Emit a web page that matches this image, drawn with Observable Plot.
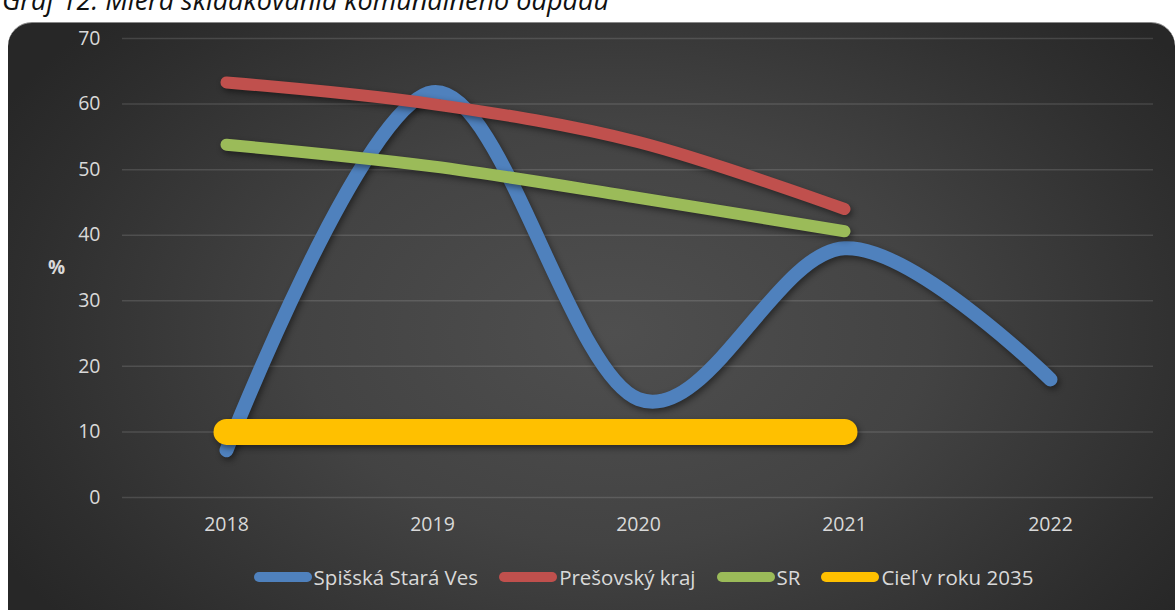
<!DOCTYPE html>
<html>
<head>
<meta charset="utf-8">
<script src="https://cdn.jsdelivr.net/npm/d3@7"></script>
<script src="https://cdn.jsdelivr.net/npm/@observablehq/plot@0.6"></script>
<style>
  html, body { margin: 0; padding: 0; background: #fff; width: 1175px; height: 610px; overflow: hidden; }
  #title { position: absolute; left: 2px; top: -19px; font: italic 27px "Open Sans", sans-serif; color: #111; white-space: nowrap; }
  #frame { position: absolute; left: 8px; top: 22px; width: 1167px; height: 620px; border-radius: 24px 24px 0 0;
    background: radial-gradient(ellipse 60% 75% at 52% 50%, #4f4f4f 0%, #434343 45%, #2e2e2e 85%, #272727 100%);
    border-top: 1px solid #888; overflow: hidden; }
  #chart { position: absolute; left: 0; top: 0; }
  #pct { position: absolute; left: 48px; top: 254px; font: bold 19px "Open Sans", sans-serif; color: #d9d9d9; }
  #legend { position: absolute; left: 0; width: 1175px; top: 563px; display: flex; justify-content: center; gap: 21px;
    font: 20.5px "Open Sans", sans-serif; color: #d9d9d9; padding-left: 112px; box-sizing: border-box; }
  .item { display: flex; align-items: center; gap: 2px; }
  .sw { width: 58px; height: 10px; border-radius: 5px; }
</style>
</head>
<body>
<div id="title">Graf 12: Miera skládkovania komunálneho odpadu</div>
<div id="frame"></div>
<div id="chart"></div>
<div id="pct">%</div>
<div id="legend"></div>
<script>
const years = ["2018", "2019", "2020", "2021", "2022"];
const spisska = [7.2, 61.8, 15.0, 38.0, 18.0];
const presov = [63.3, 60.0, 54.2, 44.0];
const sr = [53.8, 50.5, 45.7, 40.6];
const ciel = [10, 10, 10, 10];
const seriesNames = ["Spišská Stará Ves", "Prešovský kraj", "SR", "Cieľ v roku 2035"];
const seriesColors = ["#4f81bd", "#c0504d", "#9bbb59", "#ffc000"];
const yTicks = [0, 10, 20, 30, 40, 50, 60, 70];

const toRows = (vals, name) => vals.map((v, i) => ({year: years[i], value: v, series: name}));
const rows = [toRows(spisska, seriesNames[0]), toRows(presov, seriesNames[1]), toRows(sr, seriesNames[2]), toRows(ciel, seriesNames[3])];

const shadow = "drop-shadow(2px 3px 3px rgba(0,0,0,0.45))";
const widths = [14, 12, 12, 26];

const chart = Plot.plot({
  width: 1175,
  height: 545,
  marginLeft: 122,
  marginRight: 22,
  marginTop: 38,
  marginBottom: 48,
  style: {background: "transparent", fontFamily: "Open Sans, sans-serif", fontSize: "19.5px", color: "#d9d9d9", overflow: "visible"},
  x: {type: "point", domain: years, padding: 0.5, label: null},
  y: {domain: [0, 70], label: null},
  marks: [
    Plot.gridY(yTicks, {stroke: "#ffffff", strokeOpacity: 0.13, strokeWidth: 1.5}),
    Plot.axisY(yTicks, {tickSize: 0, tickPadding: 22, fill: "#d9d9d9", label: null}),
    Plot.axisX(years, {tickSize: 0, tickPadding: 20, fill: "#d9d9d9", label: null}),
    ...rows.map((r, i) => Plot.line(r, {
      x: "year", y: "value", stroke: seriesColors[i], strokeWidth: widths[i],
      strokeLinecap: "round", strokeLinejoin: "round",
      curve: i === 3 ? "linear" : "cardinal", tension: 0,
      imageFilter: shadow
    }))
  ]
});
document.getElementById("chart").appendChild(chart);

const legend = document.getElementById("legend");
seriesNames.forEach((n, i) => {
  const it = document.createElement("div");
  it.className = "item";
  const sw = document.createElement("div");
  sw.className = "sw";
  sw.style.background = seriesColors[i];
  const t = document.createElement("span");
  t.textContent = n;
  it.appendChild(sw); it.appendChild(t);
  legend.appendChild(it);
});
</script>
</body>
</html>
